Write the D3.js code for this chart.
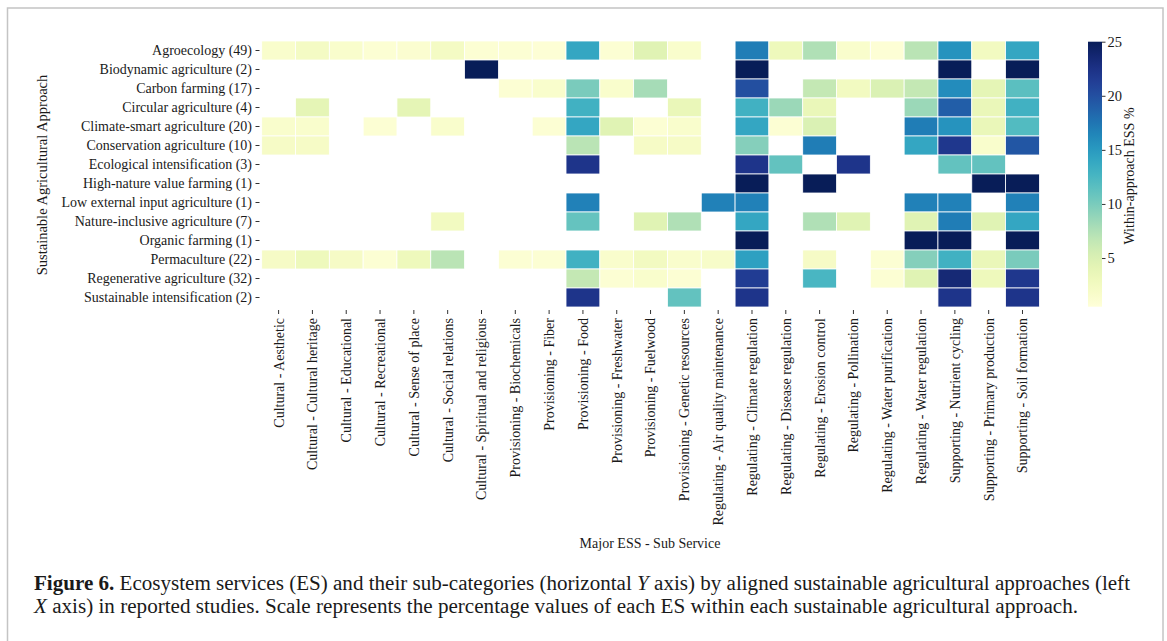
<!DOCTYPE html>
<html>
<head>
<meta charset="utf-8">
<script src="https://cdn.jsdelivr.net/npm/d3@7"></script>
<style>
  body { margin: 0; background: #fff; }
  text { font-family: "Liberation Serif", "Times New Roman", serif; fill: #1a1a1a; }
</style>
</head>
<body>
<div id="chart"></div>
<script>
// approaches (rows) and sub services (columns)
const approaches = [
    "Agroecology (49)", "Biodynamic agriculture (2)", "Carbon farming (17)",
    "Circular agriculture (4)", "Climate-smart agriculture (20)", "Conservation agriculture (10)",
    "Ecological intensification (3)", "High-nature value farming (1)", "Low external input agriculture (1)",
    "Nature-inclusive agriculture (7)", "Organic farming (1)", "Permaculture (22)",
    "Regenerative agriculture (32)", "Sustainable intensification (2)"
];
const services = [
    "Cultural - Aesthetic", "Cultural - Cultural heritage", "Cultural - Educational",
    "Cultural - Recreational", "Cultural - Sense of place", "Cultural - Social relations",
    "Cultural - Spiritual and religious", "Provisioning - Biochemicals", "Provisioning - Fiber",
    "Provisioning - Food", "Provisioning - Freshwater", "Provisioning - Fuelwood",
    "Provisioning - Genetic resources", "Regulating - Air quality maintenance", "Regulating - Climate regulation",
    "Regulating - Disease regulation", "Regulating - Erosion control", "Regulating - Pollination",
    "Regulating - Water purification", "Regulating - Water regulation", "Supporting - Nutrient cycling",
    "Supporting - Primary production", "Supporting - Soil formation"
];

// within-approach % per row, null = no studies
const _ = null;
const agroecology    = [1.5, 2.2, 1.5, 1, 1.2, 2.2, 1, 1, 0.8, 14, 1, 4.5, 1.5, _, 17, 3, 7.5, 1.5, 0.8, 7, 15.5, 2.5, 14];
const biodynamic     = [_, _, _, _, _, _, 25, _, _, _, _, _, _, _, 25, _, _, _, _, _, 25, _, 25];
const carbonFarming  = [_, _, _, _, _, _, _, 1, 1.5, 10, 1.5, 8, _, _, 20, _, 6.5, 2.5, 5, 6.5, 16, 4, 11.5];
const circular       = [_, 4, _, _, 4, _, _, _, _, 13, _, _, 3.5, _, 13, 8.5, 3.5, _, _, 8.5, 19, 3.5, 13];
const climateSmart   = [1.5, 1.5, _, 1, _, 1.5, _, _, 1, 14, 4.5, 1, 1.5, _, 14, 1, 5, _, _, 17, 15.5, 3.5, 12];
const conservation   = [2, 2, _, _, _, _, _, _, _, 7, _, 2, 2, _, 9.5, _, 17, _, _, 14, 22, 1.5, 19.5];
const ecoIntens      = [_, _, _, _, _, _, _, _, _, 22.2, _, _, _, _, 22.2, 11.1, _, 22.2, _, _, 11.1, 11.1, _];
const highNature     = [_, _, _, _, _, _, _, _, _, _, _, _, _, _, 25, _, 25, _, _, _, _, 25, 25];
const lowInput       = [_, _, _, _, _, _, _, _, _, 16.7, _, _, _, 16.7, 16.7, _, _, _, _, 16.7, 16.7, _, 16.7];
const natureIncl     = [_, _, _, _, _, 2.5, _, _, _, 11, _, 4.5, 7.5, _, 14, _, 7.5, 4.5, _, 4.5, 17, 4.5, 14];
const organic        = [_, _, _, _, _, _, _, _, _, _, _, _, _, _, 25, _, _, _, _, 25, 25, _, 25];
const permaculture   = [2, 3, 2, 1, 3, 7, _, 1, 1, 13, 1.5, 2.5, 1.5, 1.8, 14.5, _, 2, _, 1, 9.5, 13, 3.5, 10];
const regenerative   = [_, _, _, _, _, _, _, _, _, 6.5, 1, 1.5, 1, _, 21.5, _, 12.5, _, 1, 4.5, 23.5, 3, 22];
const sustIntens     = [_, _, _, _, _, _, _, _, _, 22.2, _, _, 11.1, _, 22.2, _, _, _, _, _, 22.2, _, 22.2];

const rowsData = [agroecology, biodynamic, carbonFarming, circular, climateSmart, conservation,
    ecoIntens, highNature, lowInput, natureIncl, organic, permaculture, regenerative, sustIntens];

const colorTicks = [5, 10, 15, 20, 25];

const W = 1167, H = 641;
const svg = d3.select("#chart").append("svg")
    .attr("width", W).attr("height", H);

// figure frame
svg.append("rect")
    .attr("x", 7.5).attr("y", 8).attr("width", 1155.5).attr("height", 660)
    .attr("fill", "none").attr("stroke", "#c4c4c4").attr("stroke-width", 1.5);

const x = d3.scaleBand().domain(services).range([261.7, 1039.4]);
const y = d3.scaleBand().domain(approaches).range([41, 307]);
const color = d3.scaleSequential(d3.interpolateYlGnBu).domain([0.5, 25]).clamp(true);

const cells = [];
rowsData.forEach((row, i) => {
    row.forEach((v, j) => {
        if (v !== null) cells.push({r: approaches[i], c: services[j], v: v});
    })
})

svg.append("g").selectAll("rect")
    .data(cells)
    .enter().append("rect")
    .attr("x", d => x(d.c))
    .attr("y", d => y(d.r))
    .attr("width", x.bandwidth())
    .attr("height", y.bandwidth())
    .attr("fill", d => color(d.v))
    .attr("stroke", "#fff")
    .attr("stroke-width", 0.8);

// y axis (ticks + labels)
const yAxis = svg.append("g");
yAxis.selectAll("line").data(approaches).enter().append("line")
    .attr("x1", 255.5).attr("x2", 259.5)
    .attr("y1", d => y(d) + y.bandwidth() / 2)
    .attr("y2", d => y(d) + y.bandwidth() / 2)
    .attr("stroke", "#333").attr("stroke-width", 1);
yAxis.selectAll("text").data(approaches).enter().append("text")
    .attr("x", 252)
    .attr("y", d => y(d) + y.bandwidth() / 2)
    .attr("dy", "0.35em")
    .attr("text-anchor", "end")
    .style("font-size", "14px")
    .text(d => d);

// x axis
const xAxis = svg.append("g");
xAxis.selectAll("line").data(services).enter().append("line")
    .attr("x1", d => x(d) + x.bandwidth() / 2)
    .attr("x2", d => x(d) + x.bandwidth() / 2)
    .attr("y1", 310).attr("y2", 314)
    .attr("stroke", "#333").attr("stroke-width", 1);
xAxis.selectAll("text").data(services).enter().append("text")
    .attr("transform", d => "translate(" + (x(d) + x.bandwidth() / 2) + ",318) rotate(-90)")
    .attr("dy", "0.35em")
    .attr("text-anchor", "end")
    .style("font-size", "14px")
    .text(d => d);

svg.append("text")
    .attr("x", 650).attr("y", 548)
    .attr("text-anchor", "middle")
    .style("font-size", "14px")
    .text("Major ESS - Sub Service");

svg.append("text")
    .attr("transform", "translate(47,175) rotate(-90)")
    .attr("text-anchor", "middle")
    .style("font-size", "14.5px")
    .text("Sustainable Agricultural Approach");

// colorbar
const cbX = 1088, cbW = 14;
const cbScale = d3.scaleLinear().domain([0.5, 25]).range([306.7, 41.7]);
const defs = svg.append("defs");
const grad = defs.append("linearGradient").attr("id", "cbgrad")
    .attr("x1", 0).attr("y1", 1).attr("x2", 0).attr("y2", 0);
d3.range(0, 1.001, 0.05).forEach(t => {
    grad.append("stop").attr("offset", t).attr("stop-color", d3.interpolateYlGnBu(t));
})
svg.append("rect")
    .attr("x", cbX).attr("y", cbScale(25))
    .attr("width", cbW).attr("height", cbScale(0.5) - cbScale(25))
    .attr("fill", "url(#cbgrad)");

const cb = svg.append("g").attr("transform", "translate(" + (cbX + cbW) + ",0)")
    .call(d3.axisRight(cbScale).tickValues(colorTicks).tickSize(3.5).tickPadding(2));
cb.select(".domain").remove();
cb.selectAll("line").attr("stroke", "#333");
cb.selectAll("text")
    .style("font-family", "'Liberation Serif', serif")
    .style("font-size", "14.5px")
    .attr("fill", "#1a1a1a");

svg.append("text")
    .attr("transform", "translate(1134,176) rotate(-90)")
    .attr("text-anchor", "middle")
    .style("font-size", "14px")
    .text("Within-approach ESS %");

// caption
const cap1 = svg.append("text")
    .attr("x", 34).attr("y", 590)
    .attr("textLength", 1096).attr("lengthAdjust", "spacingAndGlyphs")
    .style("font-size", "20px");
cap1.append("tspan").style("font-weight", "bold").text("Figure 6.");
cap1.append("tspan").text(" Ecosystem services (ES) and their sub-categories (horizontal ");
cap1.append("tspan").style("font-style", "italic").text("Y");
cap1.append("tspan").text(" axis) by aligned sustainable agricultural approaches (left");

const cap2 = svg.append("text")
    .attr("x", 34).attr("y", 613)
    .attr("textLength", 1044).attr("lengthAdjust", "spacingAndGlyphs")
    .style("font-size", "20px");
cap2.append("tspan").style("font-style", "italic").text("X");
cap2.append("tspan").text(" axis) in reported studies. Scale represents the percentage values of each ES within each sustainable agricultural approach.");
</script>
</body>
</html>
